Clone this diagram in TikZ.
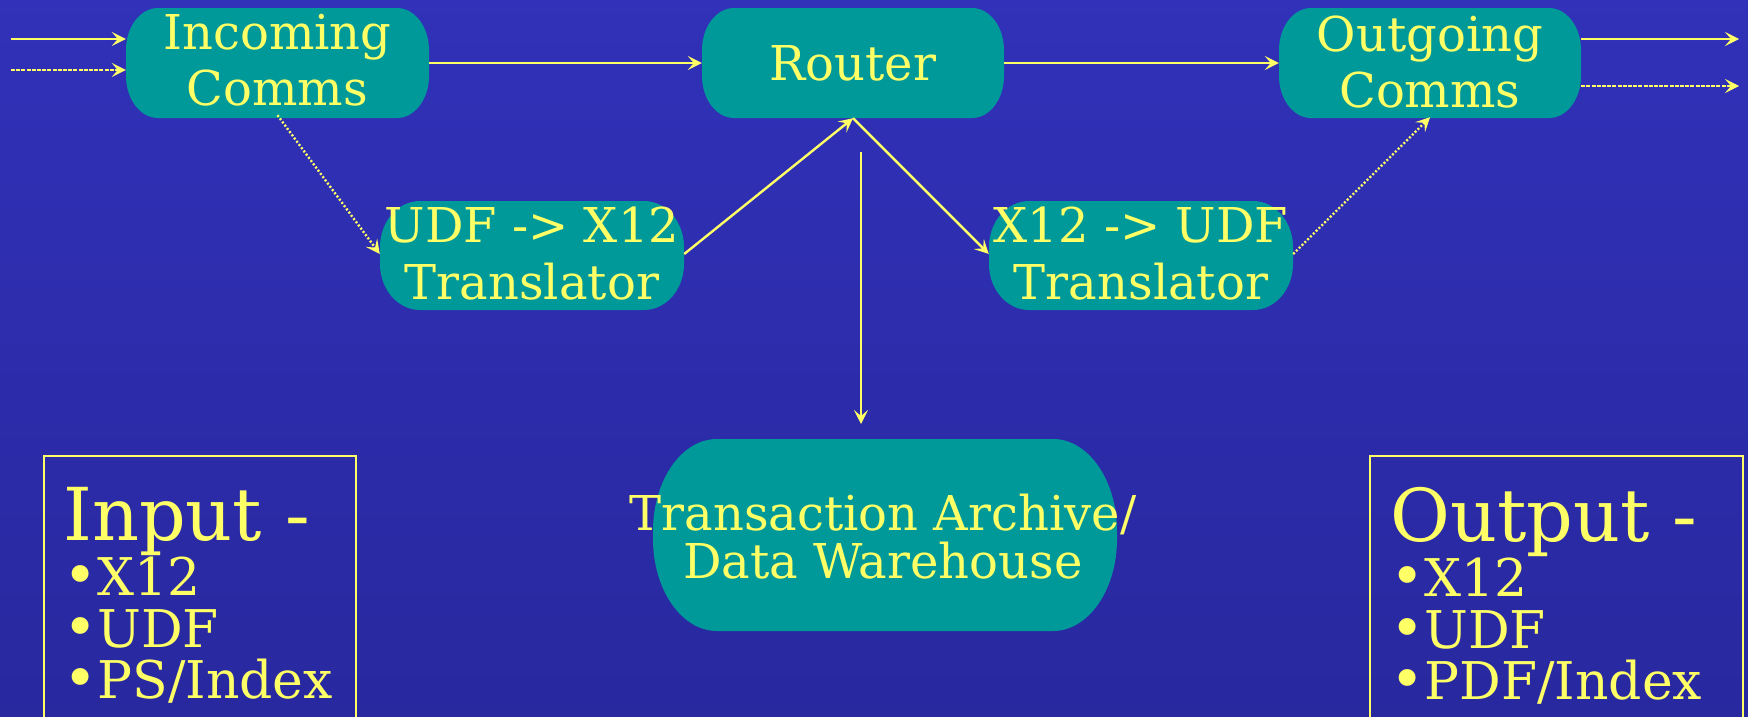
\documentclass[tikz,border=0pt]{standalone}
\usepackage{fontspec}
\setmainfont{DejaVu Serif}
\usetikzlibrary{arrows.meta}
\definecolor{bgtop}{HTML}{3131B9}
\definecolor{bgbot}{HTML}{28289F}
\definecolor{boxteal}{HTML}{009999}
\definecolor{ylw}{HTML}{FFFF66}
% x1 y1 x2 y2 rx ry  (y axis points down)
\newcommand\ellfill[6]{\fill[boxteal] ({#1+#5},#2) -- ({#3-#5},#2)
  arc[start angle=-90, end angle=0, x radius=#5, y radius=#6] -- (#3,{#4-#6})
  arc[start angle=0, end angle=90, x radius=#5, y radius=#6] -- ({#1+#5},#4)
  arc[start angle=90, end angle=180, x radius=#5, y radius=#6] -- (#1,{#2+#6})
  arc[start angle=180, end angle=270, x radius=#5, y radius=#6] -- cycle;}
\newcommand\bul{{\fontsize{58}{52}\selectfont •}}
\newcommand\listtext[2]{\lineskiplimit=-200pt\parindent=0pt\spaceskip=0pt\xspaceskip=0pt
  \fontsize{73}{73}\selectfont #1\par
  \fontsize{52}{55}\selectfont\bul X12\par
  \fontsize{52}{52}\selectfont\bul UDF\par
  \baselineskip=51pt\bul #2\par}
\begin{document}
\begin{tikzpicture}[x=1pt,y=-1pt,
  lbl/.style={text=ylw, align=center, inner sep=0pt, font=\fontsize{48}{56}\selectfont},
  conn/.style={draw=ylw, line width=2.4pt, -{Stealth[length=14pt,width=14pt,inset=6pt]}},
  dotconn/.style={conn, dash pattern=on 2pt off 2pt},
  fineconn/.style={conn, dash pattern=on 4pt off 1.2pt},
  frame/.style={draw=ylw, line width=1.8pt, inner sep=0pt},
  listbox/.style={text=ylw, inner sep=0pt, anchor=north west, text width=345pt, align=left}]
\useasboundingbox (0,0) rectangle (1748,716);
\shade[top color=bgtop, bottom color=bgbot] (0,0) rectangle (1748,716);

% box shapes
\ellfill{126}{8}{429}{118}{32}{42}
\ellfill{702}{8}{1004}{118}{32}{42}
\ellfill{1279}{8}{1581}{118}{32}{42}
\ellfill{380}{201}{684}{310}{40}{46}
\ellfill{989}{201}{1293}{310}{40}{46}
\ellfill{653}{439}{1117}{631}{64}{92}

% nodes
\node[lbl, minimum width=303pt, minimum height=110pt] (inc) at (277.5,60) {Incoming\\Comms};
\node[lbl, minimum width=302pt, minimum height=110pt] (router) at (853,63) {Router};
\node[lbl, minimum width=302pt, minimum height=110pt] (out) at (1430,62) {Outgoing\\Comms};
\node[lbl, font=\fontsize{48}{57}\selectfont, minimum width=304pt, minimum height=109pt] (udf) at (532,254) {UDF -> X12\\Translator};
\node[lbl, font=\fontsize{48}{57}\selectfont, minimum width=304pt, minimum height=109pt] (x12) at (1141,254) {X12 -> UDF\\Translator};
\node[lbl, font=\fontsize{48}{48}\selectfont, minimum width=464pt, minimum height=192pt] (trans) at (883,537) {Transaction Archive/\\Data Warehouse};

% input / output frames
\node[frame, anchor=north west, minimum width=312pt, minimum height=300pt] (inbox) at (43,455) {};
\node[frame, anchor=north west, minimum width=373pt, minimum height=300pt] (outbox) at (1369,455) {};
\node[listbox] (inlist) at (63,487) {\listtext{Input -}{PS/Index}};
\node[listbox] (outlist) at (1390,487) {\listtext{Output -}{PDF/Index}};

% free ends
\coordinate (ia1) at (11,39);
\coordinate (ia2) at (11,70);
\coordinate (oa1) at (1739,39);
\coordinate (oa2) at (1739,86);
\coordinate (v1) at (861,152);
\coordinate (v2) at (861,424);

% connectors
\draw[conn] (ia1) -- (ia1 -| inc.west);
\draw[fineconn] (ia2) -- (ia2 -| inc.west);
\draw[conn] (out.east |- oa1) -- (oa1);
\draw[fineconn] (out.east |- oa2) -- (oa2);
\draw[conn] (inc.east |- router.west) -- (router.west);
\draw[conn] (router.east) -- (router.east -| out.west);
\draw[dotconn] (inc.south) -- (udf.west);
\draw[conn] (udf.east) -- (router.south);
\draw[conn] (router.south) -- (x12.west);
\draw[dotconn] (x12.east) -- (out.south);
\draw[conn] (v1) -- (v2);
\end{tikzpicture}
\end{document}
